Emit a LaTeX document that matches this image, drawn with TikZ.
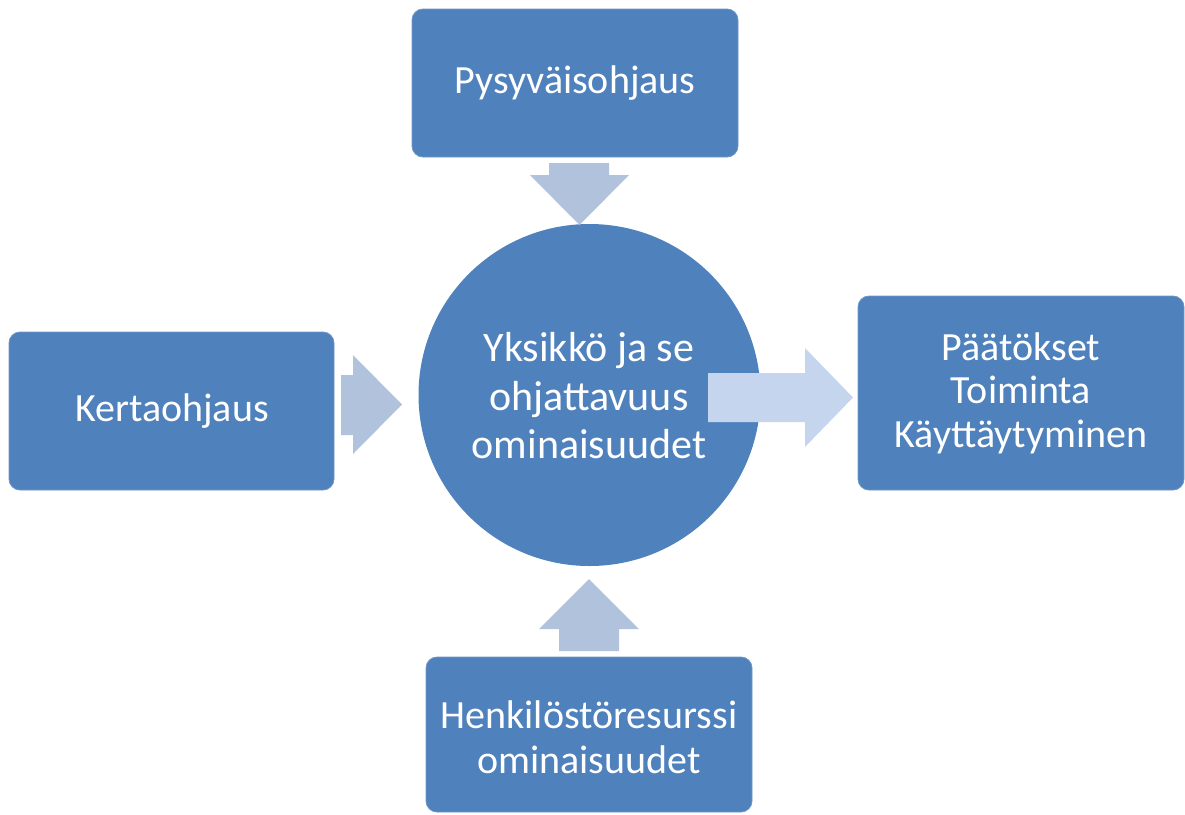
\documentclass[tikz,border=0pt]{standalone}
\usepackage{fontspec}
\setmainfont{Carlito}
\definecolor{boxblue}{HTML}{4F81BD}
\definecolor{boxedge}{HTML}{6F95C8}
\definecolor{arrowblue}{HTML}{B1C2DD}
\definecolor{arrowlight}{HTML}{C6D5EE}
\begin{document}
\begin{tikzpicture}[x=1pt,y=-1pt,
  blockbox/.style={draw=boxedge,line width=0.8pt,fill=boxblue,rounded corners=11pt},
  lbl/.style={text=white,align=center,font=\fontsize{40}{46}\selectfont,inner sep=0pt},
  blockarrow/.style={fill=arrowblue,draw=none},
  blockarrowlight/.style={fill=arrowlight,draw=none}]
\useasboundingbox (0,0) rectangle (1185,814);
% boxes
\draw[blockbox] (412,9) rectangle (738,157);
\node[lbl] (top) at (575,83) {Pysyväisohjaus};
\draw[blockbox] (9,332) rectangle (334,490);
\node[lbl] (left) at (172,411) {Kertaohjaus};
\draw[blockbox] (858,296) rectangle (1184,490);
\node[lbl,font=\fontsize{40}{43.5}\selectfont] (right) at (1021,393) {Päätökset\\Toiminta\\Käyttäytyminen};
\draw[blockbox] (426,657) rectangle (752,812);
\node[lbl,font=\fontsize{40}{45}\selectfont] (bottom) at (589,737) {Henkilöstöresurssi\\ominaisuudet};
% circle
\fill[boxblue] (589.5,395) circle (171);
\node[lbl,font=\fontsize{42}{48.5}\selectfont] (center) at (589,396) {Yksikkö ja se\\ohjattavuus\\ominaisuudet};
% arrows
\fill[blockarrow] (549,163) -- (609,163) -- (609,175) -- (629,175) -- (579.5,225) -- (530,175) -- (549,175) -- cycle;
\fill[blockarrow] (341,375) -- (353,375) -- (353,355) -- (402,404.5) -- (353,454) -- (353,435) -- (341,435) -- cycle;
\fill[blockarrowlight] (708,373) -- (805,373) -- (805,348) -- (853,397.5) -- (805,447) -- (805,422) -- (708,422) -- cycle;
\fill[blockarrow] (559,651) -- (619,651) -- (619,629) -- (639,629) -- (589,579) -- (539,629) -- (559,629) -- cycle;
\end{tikzpicture}
\end{document}
